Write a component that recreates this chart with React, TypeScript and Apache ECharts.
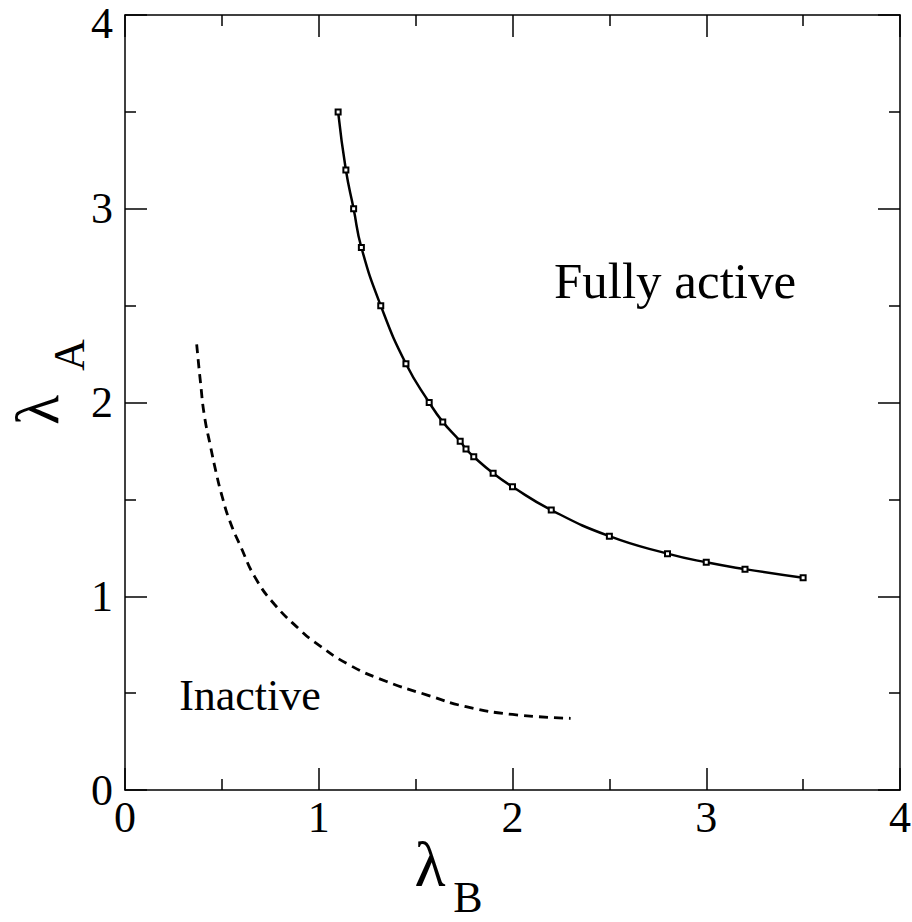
import React, { useEffect, useRef } from "react";
import * as echarts from "echarts";

const xTicks = [0, 1, 2, 3, 4];
const yTicks = [0, 1, 2, 3, 4];

const activeB = [1.1, 1.14, 1.18, 1.22, 1.32, 1.45, 1.57, 1.64, 1.73, 1.76, 1.8, 1.9, 2.0, 2.2, 2.5, 2.8, 3.0, 3.2, 3.5];
const activeA = [3.5, 3.2, 3.0, 2.8, 2.5, 2.2, 2.0, 1.9, 1.8, 1.76, 1.72, 1.635, 1.565, 1.445, 1.31, 1.22, 1.175, 1.14, 1.095];

const inactiveB = [0.37, 0.39, 0.41, 0.44, 0.47, 0.5, 0.54, 0.6, 0.67, 0.77, 0.91, 0.97, 1.15, 1.35, 1.56, 1.76, 2.0, 2.3];
const inactiveA = [2.3, 2.1, 1.93, 1.78, 1.64, 1.52, 1.39, 1.25, 1.1, 0.96, 0.82, 0.77, 0.65, 0.56, 0.49, 0.43, 0.39, 0.37];

const SERIF = "'Liberation Serif', 'Times New Roman', serif";

export default function App() {
  const ref = useRef<HTMLDivElement>(null);
  useEffect(() => {
    if (!ref.current) return;
    const chart = echarts.init(ref.current, undefined, { renderer: "svg" });
    const axisCommon = (show: boolean) => ({
      type: "value" as const,
      min: xTicks[0],
      max: xTicks[xTicks.length - 1],
      interval: 1,
      axisLine: { show: true, onZero: false, lineStyle: { color: "#000", width: 1.5 } },
      axisTick: { show: true, inside: true, length: 22, lineStyle: { color: "#000", width: 1.5 } },
      minorTick: { show: true, splitNumber: 2, length: 11, lineStyle: { color: "#000", width: 1.5 } },
      splitLine: { show: false },
      axisLabel: {
        show,
        fontFamily: SERIF,
        fontSize: 44,
        lineHeight: 30,
        color: "#000",
      },
    });
    const yMax = yTicks[yTicks.length - 1];
    chart.setOption({
      animation: false,
      backgroundColor: "#fff",
      grid: { left: 125, top: 15, right: 12, bottom: 132, containLabel: false, outerBoundsMode: "none" },
      xAxis: [
        { ...axisCommon(true), position: "bottom", axisLabel: { ...axisCommon(true).axisLabel, margin: 12 } },
        { ...axisCommon(false), position: "top" },
      ],
      yAxis: [
        {
          ...axisCommon(true),
          min: yTicks[0],
          max: yMax,
          position: "left",
          axisLabel: {
            ...axisCommon(true).axisLabel,
            margin: 12,
            formatter: (v: number) => (v === yMax ? `{t|${v}}` : `${v}`),
            rich: { t: { fontFamily: SERIF, fontSize: 44, lineHeight: 30, color: "#000", padding: [16, 0, 0, 0] } },
          },
        },
        { ...axisCommon(false), min: yTicks[0], max: yMax, position: "right" },
      ],
      series: [
        {
          type: "line",
          data: activeB.map((b, i) => [b, activeA[i]]),
          smooth: true,
          symbol: "emptyRect",
          symbolSize: 5,
          itemStyle: { color: "#000", borderColor: "#000", borderWidth: 1 },
          lineStyle: { color: "#000", width: 2.5 },
        },
        {
          type: "line",
          data: inactiveB.map((b, i) => [b, inactiveA[i]]),
          smooth: true,
          symbol: "none",
          lineStyle: { color: "#000", width: 2.8, type: [9, 6] },
        },
      ],
      graphic: [
        { type: "text", x: 675, y: 281, style: { text: "Fully active", font: `51px ${SERIF}`, fill: "#000", textAlign: "center", textVerticalAlign: "middle" } },
        { type: "text", x: 250, y: 695, style: { text: "Inactive", font: `44px ${SERIF}`, fill: "#000", textAlign: "center", textVerticalAlign: "middle" } },
        { type: "text", x: 37, y: 410, rotation: Math.PI / 2, style: { text: "λ", font: `62px ${SERIF}`, fill: "#000", textAlign: "center", textVerticalAlign: "middle" } },
        { type: "text", x: 69, y: 355, rotation: Math.PI / 2, style: { text: "A", font: `44px ${SERIF}`, fill: "#000", textAlign: "center", textVerticalAlign: "middle" } },
        { type: "text", x: 430, y: 864, style: { text: "λ", font: `64px ${SERIF}`, fill: "#000", textAlign: "center", textVerticalAlign: "middle" } },
        { type: "text", x: 468, y: 897, style: { text: "B", font: `44px ${SERIF}`, fill: "#000", textAlign: "center", textVerticalAlign: "middle" } },
      ],
    });
    return () => chart.dispose();
  }, []);
  return <div ref={ref} style={{ position: "fixed", left: 0, top: 0, width: 912, height: 922 }} />;
}
